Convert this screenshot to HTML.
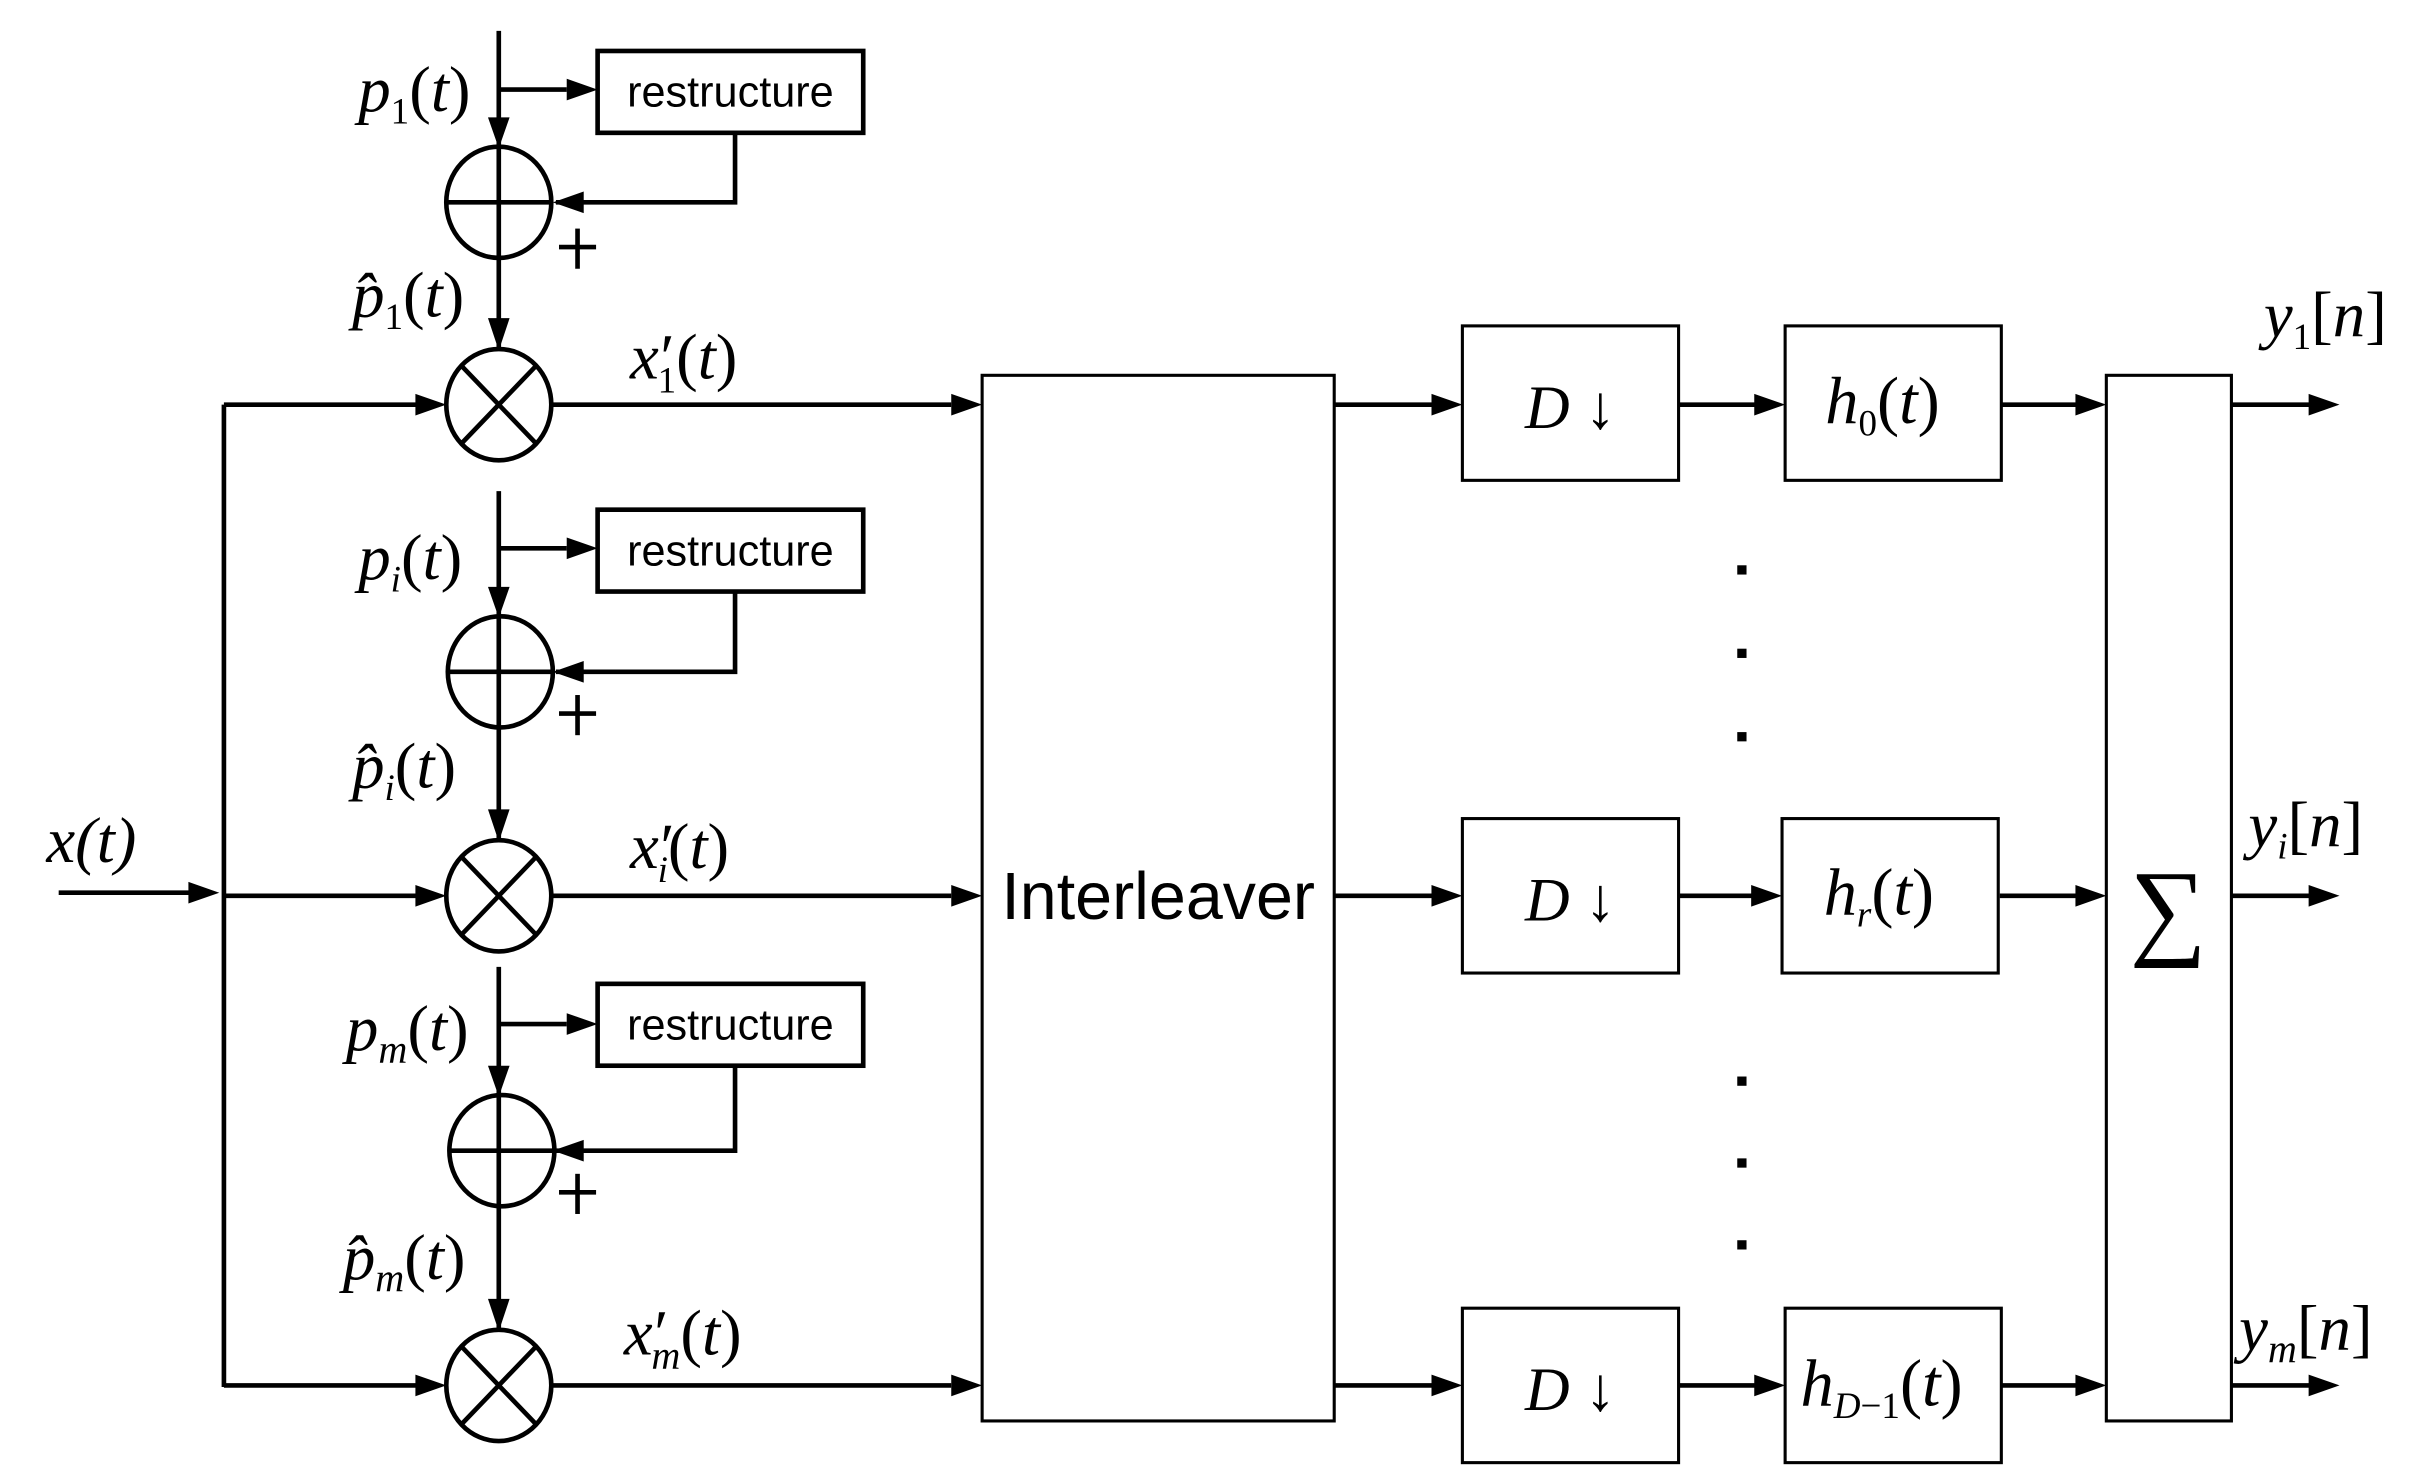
<!DOCTYPE html>
<html><head><meta charset="utf-8">
<style>
html,body{margin:0;padding:0;background:#fff;}
svg{display:block;}
.m{font-family:"Liberation Serif",serif;font-style:italic;fill:#000;}
.r{font-family:"Liberation Serif",serif;fill:#000;}
.s{font-family:"Liberation Sans",sans-serif;fill:#000;}
</style></head>
<body>
<svg width="2409" height="1475" viewBox="0 0 1560 955" preserveAspectRatio="none" xmlns="http://www.w3.org/2000/svg">
<g stroke="#000" stroke-width="3" fill="none">
  <line x1="323" y1="20" x2="323" y2="226"/>
  <line x1="323" y1="58" x2="367" y2="58"/>
  <rect x="387" y="33" width="172" height="53" fill="#fff"/>
  <polyline points="476,86 476,131 360,131"/>
  <ellipse cx="323" cy="131" rx="34" ry="36"/>
  <line x1="289" y1="131" x2="358" y2="131"/>
  <line x1="362" y1="160" x2="386" y2="160"/><line x1="374" y1="148" x2="374" y2="174"/>
  <ellipse cx="323" cy="262" rx="34" ry="36"/>
  <line x1="299" y1="237" x2="347" y2="287"/><line x1="347" y1="237" x2="299" y2="287"/>
  <line x1="145" y1="262" x2="270" y2="262"/>
  <line x1="357" y1="262" x2="616" y2="262"/>

  <line x1="323" y1="318" x2="323" y2="544"/>
  <line x1="323" y1="355" x2="367" y2="355"/>
  <rect x="387" y="330" width="172" height="53" fill="#fff"/>
  <polyline points="476,383 476,435 360,435"/>
  <ellipse cx="324" cy="435" rx="34" ry="36"/>
  <line x1="290" y1="435" x2="358" y2="435"/>
  <line x1="362" y1="462" x2="386" y2="462"/><line x1="374" y1="450" x2="374" y2="476"/>
  <ellipse cx="323" cy="580" rx="34" ry="36"/>
  <line x1="299" y1="555" x2="347" y2="605"/><line x1="347" y1="555" x2="299" y2="605"/>
  <line x1="145" y1="580" x2="270" y2="580"/>
  <line x1="357" y1="580" x2="616" y2="580"/>

  <line x1="323" y1="626" x2="323" y2="861"/>
  <line x1="323" y1="663" x2="367" y2="663"/>
  <rect x="387" y="637" width="172" height="53" fill="#fff"/>
  <polyline points="476,690 476,745 360,745"/>
  <ellipse cx="325" cy="745" rx="34" ry="36"/>
  <line x1="291" y1="745" x2="359" y2="745"/>
  <line x1="362" y1="772" x2="386" y2="772"/><line x1="374" y1="760" x2="374" y2="786"/>
  <ellipse cx="323" cy="897" rx="34" ry="36"/>
  <line x1="299" y1="872" x2="347" y2="922"/><line x1="347" y1="872" x2="299" y2="922"/>
  <line x1="145" y1="897" x2="270" y2="897"/>
  <line x1="357" y1="897" x2="616" y2="897"/>

  <line x1="145" y1="262" x2="145" y2="898"/>
  <line x1="38" y1="578" x2="125" y2="578"/>
</g>
<g fill="#000">
  <polygon points="316,76 330,76 323,96"/><polygon points="367,51 387,58 367,65"/>
  <polygon points="378,124 358,131 378,138"/><polygon points="316,206 330,206 323,227"/>
  <polygon points="269,255 289,262 269,269"/><polygon points="616,255 636,262 616,269"/>

  <polygon points="316,380 330,380 323,400"/><polygon points="367,348 387,355 367,362"/>
  <polygon points="378,428 358,435 378,442"/><polygon points="316,524 330,524 323,545"/>
  <polygon points="269,573 289,580 269,587"/><polygon points="616,573 636,580 616,587"/>

  <polygon points="316,690 330,690 323,710"/><polygon points="367,656 387,663 367,670"/>
  <polygon points="378,738 358,745 378,752"/><polygon points="316,841 330,841 323,862"/>
  <polygon points="269,890 289,897 269,904"/><polygon points="616,890 636,897 616,904"/>

  <polygon points="122,571 142,578 122,585"/>
</g>
<text x="473" y="69" class="s" font-size="28" text-anchor="middle">restructure</text>
<text x="473" y="366" class="s" font-size="28" text-anchor="middle">restructure</text>
<text x="473" y="673" class="s" font-size="28" text-anchor="middle">restructure</text>

<text x="30" y="558" class="m" font-size="42">x(t)</text>

<text x="232" y="72" class="m" font-size="42">p<tspan font-size="24" dy="8" font-style="normal">1</tspan><tspan dy="-8" font-style="normal">(</tspan>t<tspan font-style="normal">)</tspan></text>
<text x="228" y="205" class="m" font-size="42">p̂<tspan font-size="24" dy="8" font-style="normal">1</tspan><tspan dy="-8" font-style="normal">(</tspan>t<tspan font-style="normal">)</tspan></text>
<text x="408" y="245" class="m" font-size="42">x<tspan font-style="normal" dx="1">′</tspan><tspan font-size="24" dx="-11" dy="9" font-style="normal">1</tspan><tspan dy="-9" font-style="normal">(</tspan>t<tspan font-style="normal">)</tspan></text>

<text x="232" y="375" class="m" font-size="42">p<tspan font-size="24" dy="8">i</tspan><tspan dy="-8" font-style="normal">(</tspan>t<tspan font-style="normal">)</tspan></text>
<text x="228" y="510" class="m" font-size="42">p̂<tspan font-size="24" dy="8">i</tspan><tspan dy="-8" font-style="normal">(</tspan>t<tspan font-style="normal">)</tspan></text>
<text x="408" y="562" class="m" font-size="42">x<tspan font-style="normal" dx="1">′</tspan><tspan font-size="24" dx="-11" dy="9">i</tspan><tspan dy="-9" font-style="normal">(</tspan>t<tspan font-style="normal">)</tspan></text>

<text x="224" y="680" class="m" font-size="42">p<tspan font-size="26" dy="8">m</tspan><tspan dy="-8" font-style="normal">(</tspan>t<tspan font-style="normal">)</tspan></text>
<text x="222" y="828" class="m" font-size="42">p̂<tspan font-size="26" dy="8">m</tspan><tspan dy="-8" font-style="normal">(</tspan>t<tspan font-style="normal">)</tspan></text>
<text x="404" y="877" class="m" font-size="42">x<tspan font-style="normal" dx="1">′</tspan><tspan font-size="26" dx="-11" dy="9">m</tspan><tspan dy="-9" font-style="normal">(</tspan>t<tspan font-style="normal">)</tspan></text>

<rect x="636" y="243" width="228" height="677" fill="#fff" stroke="#000" stroke-width="2"/>
<text x="750" y="595" class="s" font-size="43" text-anchor="middle">Interleaver</text>

<g stroke="#000" stroke-width="3">
<line x1="864" y1="262" x2="928" y2="262"/><line x1="864" y1="580" x2="928" y2="580"/><line x1="864" y1="897" x2="928" y2="897"/>
<line x1="1087" y1="262" x2="1137" y2="262"/><line x1="1087" y1="580" x2="1137" y2="580"/><line x1="1087" y1="897" x2="1137" y2="897"/>
<line x1="1296" y1="262" x2="1345" y2="262"/><line x1="1295" y1="580" x2="1345" y2="580"/><line x1="1296" y1="897" x2="1345" y2="897"/>
<line x1="1445" y1="262" x2="1496" y2="262"/><line x1="1445" y1="580" x2="1496" y2="580"/><line x1="1445" y1="897" x2="1496" y2="897"/>
</g>
<g fill="#000">
<polygon points="927,255 947,262 927,269"/><polygon points="927,573 947,580 927,587"/><polygon points="927,890 947,897 927,904"/>
<polygon points="1136,255 1156,262 1136,269"/><polygon points="1134,573 1154,580 1134,587"/><polygon points="1136,890 1156,897 1136,904"/>
<polygon points="1344,255 1364,262 1344,269"/><polygon points="1344,573 1364,580 1344,587"/><polygon points="1344,890 1364,897 1344,904"/>
<polygon points="1495,255 1515,262 1495,269"/><polygon points="1495,573 1515,580 1495,587"/><polygon points="1495,890 1515,897 1495,904"/>
<rect x="1125" y="366" width="6" height="6"/><rect x="1125" y="420" width="6" height="6"/><rect x="1125" y="474" width="6" height="6"/>
<rect x="1125" y="697" width="6" height="6"/><rect x="1125" y="750" width="6" height="6"/><rect x="1125" y="803" width="6" height="6"/>
</g>
<g fill="#fff" stroke="#000" stroke-width="2">
<rect x="947" y="211" width="140" height="100"/><rect x="947" y="530" width="140" height="100"/><rect x="947" y="847" width="140" height="100"/>
<rect x="1156" y="211" width="140" height="100"/><rect x="1154" y="530" width="140" height="100"/><rect x="1156" y="847" width="140" height="100"/>
<rect x="1364" y="243" width="81" height="677"/>
</g>
<text x="1017" y="277" class="m" font-size="40" text-anchor="middle">D<tspan font-style="normal"> ↓</tspan></text>
<text x="1017" y="596" class="m" font-size="40" text-anchor="middle">D<tspan font-style="normal"> ↓</tspan></text>
<text x="1017" y="913" class="m" font-size="40" text-anchor="middle">D<tspan font-style="normal"> ↓</tspan></text>
<text x="1182" y="274" class="m" font-size="43">h<tspan font-size="24" dy="8" font-style="normal">0</tspan><tspan dy="-8" font-style="normal">(</tspan>t<tspan font-style="normal">)</tspan></text>
<text x="1181" y="592" class="m" font-size="43">h<tspan font-size="24" dy="8">r</tspan><tspan dy="-8" font-style="normal">(</tspan>t<tspan font-style="normal">)</tspan></text>
<text x="1166" y="910" class="m" font-size="43">h<tspan font-size="24" dy="8">D</tspan><tspan font-size="24" font-style="normal">−1</tspan><tspan dy="-8" font-style="normal">(</tspan>t<tspan font-style="normal">)</tspan></text>
<text x="1404" y="612" class="r" font-size="70" text-anchor="middle">∑</text>

<text x="1466" y="218" class="m" font-size="42">y<tspan font-size="24" dy="8" font-style="normal">1</tspan><tspan dy="-8" font-style="normal">[</tspan>n<tspan font-style="normal">]</tspan></text>
<text x="1456" y="548" class="m" font-size="42">y<tspan font-size="24" dy="8">i</tspan><tspan dy="-8" font-style="normal">[</tspan>n<tspan font-style="normal">]</tspan></text>
<text x="1450" y="874" class="m" font-size="42">y<tspan font-size="26" dy="8">m</tspan><tspan dy="-8" font-style="normal">[</tspan>n<tspan font-style="normal">]</tspan></text>
</svg>
</body></html>
